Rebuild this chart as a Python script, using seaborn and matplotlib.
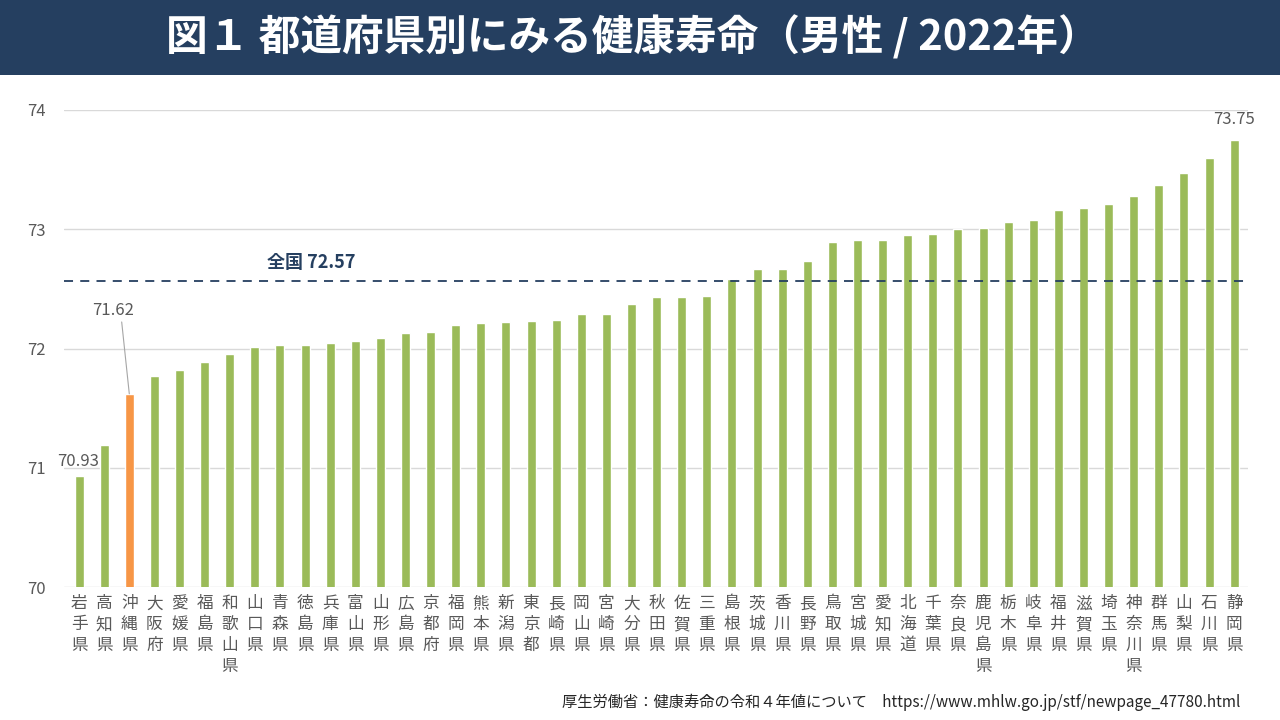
import matplotlib
matplotlib.use("Agg")
import matplotlib.pyplot as plt
import seaborn as sns
import pandas as pd

# 都道府県別 健康寿命（男性 / 2022年）
prefectures = [
    "岩手県", "高知県", "沖縄県", "大阪府", "愛媛県", "福島県", "和歌山県", "山口県",
    "青森県", "徳島県", "兵庫県", "富山県", "山形県", "広島県", "京都府", "福岡県",
    "熊本県", "新潟県", "東京都", "長崎県", "岡山県", "宮崎県", "大分県", "秋田県",
    "佐賀県", "三重県", "島根県", "茨城県", "香川県", "長野県", "鳥取県", "宮城県",
    "愛知県", "北海道", "千葉県", "奈良県", "鹿児島県", "栃木県", "岐阜県", "福井県",
    "滋賀県", "埼玉県", "神奈川県", "群馬県", "山梨県", "石川県", "静岡県",
]
values = [
    70.93, 71.19, 71.62, 71.77, 71.82, 71.89, 71.95, 72.01,
    72.03, 72.03, 72.05, 72.06, 72.09, 72.13, 72.14, 72.20,
    72.21, 72.22, 72.23, 72.24, 72.29, 72.29, 72.37, 72.43,
    72.43, 72.44, 72.58, 72.67, 72.67, 72.73, 72.89, 72.91,
    72.91, 72.95, 72.96, 73.00, 73.01, 73.06, 73.08, 73.16,
    73.18, 73.21, 73.28, 73.37, 73.47, 73.60, 73.75,
]
national = 72.57
highlight = "沖縄県"

navy = "#253F60"
green = "#9BBB59"
orange = "#F79646"
grey = "#595959"

sns.set_theme(style="white")
plt.rcParams["font.family"] = ["Noto Sans CJK JP", "DejaVu Sans"]

df = pd.DataFrame({"pref": prefectures, "value": values})
colors = [orange if p == highlight else green for p in prefectures]

fig = plt.figure(figsize=(12.8, 7.2), dpi=100)
# title banner
fig.patches.append(plt.Rectangle((0, 1 - 75 / 720), 1, 75 / 720, transform=fig.transFigure,
                                 facecolor=navy, edgecolor="none", zorder=0))
fig.text(0.494, 1 - 37 / 720, "図１ 都道府県別にみる健康寿命（男性 / 2022年）", color="white",
         fontsize=30, fontweight="bold", ha="center", va="center")

ax = fig.add_axes([0.05, 1 - 587 / 720, 0.925, (587 - 110) / 720])
sns.barplot(data=df, x="pref", y="value", hue="pref", palette=colors, width=0.36,
            saturation=1, legend=False, ax=ax, zorder=3)
ax.set_ylim(70, 74)
ax.set_xlim(-0.6, len(prefectures) - 0.45)
ax.set_yticks([70, 71, 72, 73, 74])
ax.yaxis.grid(True, color="#D9D9D9", linewidth=1)
ax.set_axisbelow(True)
for s in ax.spines.values():
    s.set_visible(False)
ax.set_xlabel("")
ax.set_ylabel("")
ax.tick_params(axis="y", colors=grey, labelsize=12, length=0, pad=20)
for t in ax.get_yticklabels():
    t.set_ha("center")
ax.set_xticks(range(len(prefectures)))
ax.set_xticklabels(["\n".join(p) for p in prefectures], fontsize=12, color=grey,
                   linespacing=1.3, va="top")
ax.tick_params(axis="x", length=0, pad=6)

# national average
ax.axhline(national, color=navy, linestyle=(0, (5, 4)), linewidth=1.3, zorder=4)
ax.text(7.5, national + 0.07, f"全国 {national:.2f}", color=navy, fontsize=13,
        fontweight="bold", ha="left", va="bottom")

# value labels
i0 = 0
ax.text(i0 - 0.05, values[i0] + 0.05, f"{values[i0]:.2f}", color=grey, fontsize=12,
        ha="center", va="bottom")
i2 = prefectures.index(highlight)
ax.annotate(f"{values[i2]:.2f}", xy=(i2, values[i2]), xytext=(i2 - 0.65, values[i2] + 0.63),
            color=grey, fontsize=12, ha="center", va="bottom",
            arrowprops=dict(arrowstyle="-", color="#A6A6A6", lw=0.8, shrinkA=0, shrinkB=0,
                            relpos=(0.7, 0)))
iN = len(values) - 1
ax.text(iN, values[iN] + 0.1, f"{values[iN]:.2f}", color=grey, fontsize=12,
        ha="center", va="bottom")

fig.text(1240 / 1280, 1 - 702 / 720,
         "厚生労働省：健康寿命の令和４年値について　https://www.mhlw.go.jp/stf/newpage_47780.html",
         fontsize=11, color="#262626", ha="right", va="center")

fig.savefig("out.png", dpi=100)
